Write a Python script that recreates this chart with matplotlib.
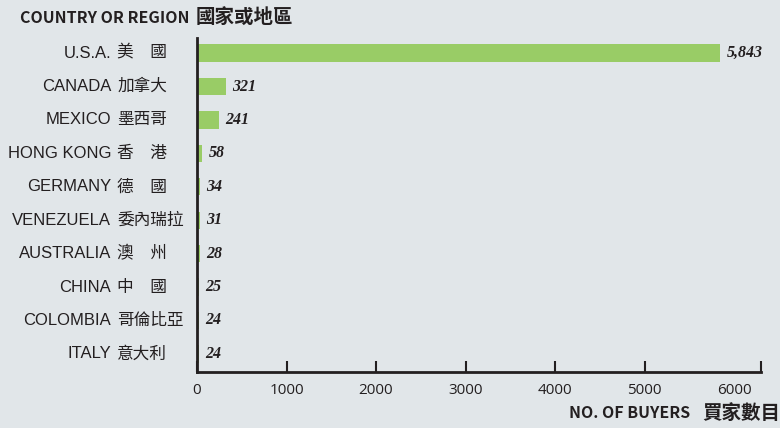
import matplotlib.pyplot as plt

countries_en = ["U.S.A.", "CANADA", "MEXICO", "HONG KONG", "GERMANY",
                "VENEZUELA", "AUSTRALIA", "CHINA", "COLOMBIA", "ITALY"]
countries_zh = ["美\u3000國", "加拿大", "墨西哥", "香\u3000港", "德\u3000國",
                "委內瑞拉", "澳\u3000州", "中\u3000國", "哥倫比亞", "意大利"]
buyers = [5843, 321, 241, 58, 34, 31, 28, 25, 24, 24]
x_ticks = [0, 1000, 2000, 3000, 4000, 5000, 6000]

bg = '#e1e6e9'
green = '#99cc66'
dark = '#231f20'
fam_bold = ['Noto Sans CJK TC', 'DejaVu Sans']

fig = plt.figure(figsize=(7.8, 4.28), dpi=100, facecolor=bg)
ax = fig.add_axes([0.2526, 0.131, 0.7230, 0.780])
ax.set_facecolor(bg)

pos = list(range(len(buyers)))
ax.barh(pos, buyers, height=0.52, color=green, edgecolor='none')
ax.set_ylim(9.54, -0.45)
ax.set_xlim(0, 6300)

for p, v in zip(pos, buyers):
    ax.text(v + 70, p, f"{v:,}", ha='left', va='center', fontsize=11.5,
            fontweight='bold', fontstyle='italic', family='Liberation Serif',
            color=dark)

# country labels: english right-aligned, chinese left-aligned column
trans = ax.get_yaxis_transform()
for p, e, z in zip(pos, countries_en, countries_zh):
    ax.text(-0.1525, p, e, transform=trans, ha='right', va='center',
            fontsize=12, family='Liberation Sans', color=dark)
    ax.text(-0.1418, p, z, transform=trans, ha='left', va='center',
            fontsize=12, family=['Noto Sans CJK TC', 'DejaVu Sans'], color=dark)
ax.set_yticks([])

ax.set_xticks(x_ticks)
ax.set_xticklabels([str(t) for t in x_ticks], family='Open Sans', fontsize=11,
                   color=dark)
ax.tick_params(axis='x', direction='in', length=8, width=1.5, color=dark, pad=8)
ax.xaxis.get_major_ticks()[-1].tick1line.set_visible(False)
ax.set_xticks([6300], minor=True)
ax.tick_params(axis='x', which='minor', direction='in', length=8, width=1.5,
               color=dark)

for s in ['top', 'right']:
    ax.spines[s].set_visible(False)
for s in ['left', 'bottom']:
    ax.spines[s].set_color(dark)
    ax.spines[s].set_linewidth(2)

# header and axis title
fig.text(0.026, 0.958, "COUNTRY OR REGION", fontsize=11.5, fontweight='bold',
         family=fam_bold, color=dark, va='center', ha='left')
fig.text(0.251, 0.958, "國家或地區", fontsize=14, fontweight='bold',
         family=fam_bold, color=dark, va='center', ha='left')
fig.text(0.885, 0.035, "NO. OF BUYERS", fontsize=11.5, fontweight='bold',
         family=fam_bold, color=dark, va='center', ha='right')
fig.text(1.0, 0.035, "買家數目", fontsize=14, fontweight='bold',
         family=fam_bold, color=dark, va='center', ha='right')

plt.savefig('out.png', dpi=100, facecolor=bg)
